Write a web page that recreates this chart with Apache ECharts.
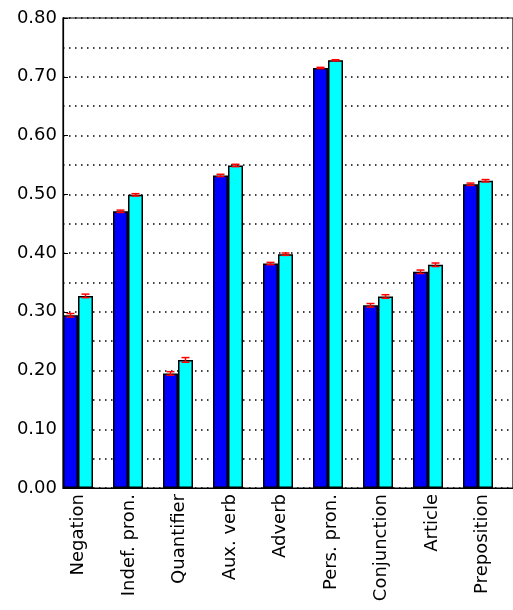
<!DOCTYPE html>
<html><head><meta charset="utf-8">
<script src="https://cdn.jsdelivr.net/npm/echarts@6/dist/echarts.min.js"></script>
<style>html,body{margin:0;padding:0;background:#fff}#c{width:513px;height:610px}</style>
</head><body><div id="c"></div>
<script>
var categories = ['Negation','Indef. pron.','Quantifier','Aux. verb','Adverb','Pers. pron.','Conjunction','Article','Preposition'];
var blueValues = [0.294,0.471,0.195,0.532,0.382,0.715,0.311,0.368,0.517];
var cyanValues = [0.327,0.499,0.218,0.549,0.398,0.728,0.326,0.380,0.523];
var blueErr = [0.003,0.002,0.003,0.002,0.002,0.001,0.003,0.003,0.002];
var cyanErr = [0.003,0.002,0.004,0.002,0.002,0.001,0.003,0.003,0.002];

var BW = 15, GHOST = 20;
function errSeries(vals, errs, idx) {
  return {
    type: 'custom', xAxisIndex: 0, yAxisIndex: 0, z: 10,
    data: vals.map(function (v, i) { return [i, v, errs[i]]; }),
    renderItem: function (params, api) {
      var i = api.value(0), v = api.value(1), e = api.value(2);
      var band = api.size([1, 0])[0];
      var c = api.coord([i, v]);
      var start = c[0] - band / 2 + (band - (2 * BW + GHOST)) / 2;
      var x = start + BW * idx + BW / 2;
      var y1 = api.coord([i, v - e])[1], y2 = api.coord([i, v + e])[1];
      var st = { stroke: '#ff0000', lineWidth: 1.5 };
      return { type: 'group', children: [
        { type: 'line', shape: { x1: x, y1: y1, x2: x, y2: y2 }, style: st },
        { type: 'line', shape: { x1: x - 4, y1: y1, x2: x + 4, y2: y1 }, style: st },
        { type: 'line', shape: { x1: x - 4, y1: y2, x2: x + 4, y2: y2 }, style: st }
      ]};
    }
  };
}
var chart = echarts.init(document.getElementById('c'));
chart.setOption({
  animation: false,
  textStyle: { fontFamily: 'DejaVu Sans' },
  grid: [
    { left: 63, top: 18, width: 455, bottom: 122, show: true, borderColor: '#000', borderWidth: 1.2 },
    { left: 53, top: 18, width: 455, bottom: 122 }
  ],
  xAxis: [
    { type: 'category', data: categories, gridIndex: 0,
      axisLine: { lineStyle: { color: '#000', width: 1.2 } }, axisTick: { show: false }, axisLabel: { show: false } },
    { type: 'category', data: categories, gridIndex: 1,
      axisLine: { show: false }, axisTick: { show: false },
      axisLabel: { rotate: 90, color: '#000', fontSize: 18, margin: 6 } }
  ],
  yAxis: [
    { type: 'value', gridIndex: 0, min: 0, max: 0.8, interval: 0.1,
      axisLine: { show: true, lineStyle: { color: '#000', width: 1.2 } },
      axisTick: { show: true, inside: true, length: 5, lineStyle: { color: '#000' } },
      axisLabel: { color: '#000', fontSize: 18, margin: 6, formatter: function (v) { return v.toFixed(2); } },
      splitLine: { show: true, lineStyle: { color: '#000', type: [1.5, 4.5], width: 1.5 } },
      minorTick: { show: false, splitNumber: 2 },
      minorSplitLine: { show: true, lineStyle: { color: '#000', type: [1.5, 4.5], width: 1.5 } } },
    { type: 'value', gridIndex: 1, min: 0, max: 0.8, show: false }
  ],
  series: [
    { type: 'bar', data: blueValues, barWidth: BW, barGap: '0%',
      itemStyle: { color: '#0000ff', borderColor: '#000', borderWidth: 1.5 } },
    { type: 'bar', data: cyanValues, barWidth: BW,
      itemStyle: { color: '#00ffff', borderColor: '#000', borderWidth: 1.5 } },
    { type: 'bar', data: [], barWidth: GHOST },
    errSeries(blueValues, blueErr, 0),
    errSeries(cyanValues, cyanErr, 1)
  ]
});
</script></body></html>
